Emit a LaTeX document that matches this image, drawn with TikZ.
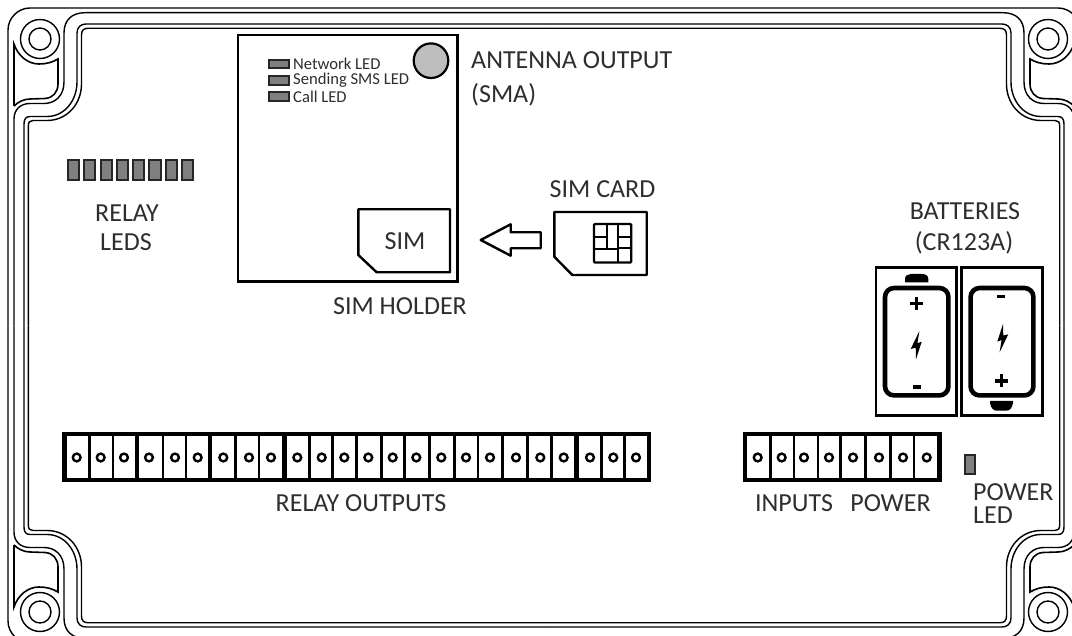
\documentclass[tikz,border=0pt]{standalone}
\usepackage{fontspec}
\setmainfont{Carlito}
\definecolor{ink}{HTML}{2E2E2E}
\definecolor{ledgray}{HTML}{808080}
\definecolor{antgray}{HTML}{BEBEBE}
\tikzset{
  shell/.style={draw=black,line width=1.4pt},
  pocket/.style={draw=black,line width=1.6pt},
  frame/.style={draw=black,line width=2.6pt},
  led/.style={draw=black!85,fill=ledgray,line width=2pt},
  lbl/.style={text=ink,font=\fontsize{26}{28}\selectfont,inner sep=0pt},
  smalllbl/.style={text=ink,font=\fontsize{16.6}{18}\selectfont,inner sep=0pt,anchor=west},
  screw/.style={draw=black,line width=2.4pt,fill=white},
  batt/.style={draw=black,line width=4.6pt,rounded corners=9pt},
  sign/.style={draw=black,line width=3.3pt},
  simshape/.style={draw=black,line width=2.4pt,line join=round},
}
\newcommand{\quartercorner}{%
  \draw[shell] (544,8) -- (30,8) .. controls (18,8) and (8,18) .. (8,30) -- (8,325.5);
  \draw[shell] (544,12.7) -- (85,12.7) .. controls (72,12.7) and (64,20) .. (64,33) -- (64,82)
     .. controls (64,96) and (55,103.5) .. (44,103.5) -- (30,103.5) .. controls (21,103.5) and (14,109) .. (14,119) -- (14,325.5);
  \draw[shell] (544,24) -- (86,24) .. controls (81,24) and (77,27) .. (77,33) -- (77,82)
     .. controls (77,100) and (65,116.5) .. (47,116.5) -- (30,116.5) .. controls (26,116.5) and (24,119) .. (24,124) -- (24,325.5);
  \draw[shell] (544,28.3) -- (88,28.3) .. controls (84,28.3) and (81.5,30) .. (81.5,35) -- (81.5,84)
     .. controls (81.5,104) and (67,120.5) .. (47,120.5) -- (33,120.5) .. controls (30,120.5) and (28.3,122) .. (28.3,126) -- (28.3,325.5);
  \draw[pocket,line join=miter] (14,106) -- (14,44) .. controls (18,56) and (28,64) .. (39,64) .. controls (46,64) and (52,62.5) .. (58,59)
     -- (58,84) .. controls (58,92) and (53,98) .. (45,98.5) -- (30,99) .. controls (24,99) and (18,102) .. (14,106);
  \draw[shell] (40,39) circle[radius=19.5];
  \draw[shell] (40,39) circle[radius=11];
}
\newcommand{\boltshape}{%
  \fill[black] (2.7,-14) -- (-6,4) -- (-1,2.7) -- (-0.7,14.3) -- (5,-3.3) -- (0.7,-1.7) -- cycle;
}
\begin{document}
\begin{tikzpicture}[x=1pt,y=-1pt]
\useasboundingbox (0,0) rectangle (1072,636);
\fill[white] (0,0) rectangle (1072,636);
\clip (0,0) rectangle (1072,636);

% enclosure, four mirrored quarters
\begin{scope}\quartercorner\end{scope}
\begin{scope}[shift={(1088,0)},xscale=-1]\quartercorner\end{scope}
\begin{scope}[shift={(0,651)},yscale=-1]\quartercorner\end{scope}
\begin{scope}[shift={(1088,651)},xscale=-1,yscale=-1]\quartercorner\end{scope}

% relay LEDs
\foreach \a/\b in {67.7/79,84/95,100.7/111.7,117.3/128.3,132.7/144,149.3/160.7,165.7/177,182.3/193.3}
  \draw[led] (\a,160) rectangle (\b,180.5);
\node[lbl] (relayA) at (127,213) {RELAY};
\node[lbl] (relayB) at (126,241.7) {LEDS};

% GSM module
\draw[frame] (238,35) rectangle (457.5,281.5);
\draw[draw=black,fill=antgray,line width=2.2pt] (431,60.7) circle[radius=17.3];
\foreach \t/\b in {60/68.5,76/85,92.5/101}
  \draw[led] (268.5,\t) rectangle (288.5,\b);
\node[smalllbl] (netled) at (293,63.5) {Network LED};
\node[smalllbl] (smsled) at (293,80) {Sending SMS LED};
\node[smalllbl] (callled) at (293,96.5) {Call LED};
\node[lbl,anchor=west] (antA) at (471,60) {ANTENNA OUTPUT};
\node[lbl,anchor=west] (antB) at (471,95) {(SMA)};

% SIM holder
\draw[simshape] (358.3,209.3) -- (450,209.3) -- (450,272.3) -- (376.7,272.3) -- (358.3,255) -- cycle;
\node[lbl] (simtxt) at (405,240.7) {SIM};
\node[lbl] (simholder) at (400,306) {SIM HOLDER};

% arrow
\draw[simshape] (480.7,240) -- (510.7,224.3) -- (510.7,232.3) -- (540.7,232.3) -- (540.7,248.3) -- (510.7,248.3) -- (510.7,255.7) -- cycle;

% SIM card
\node[lbl] (simcard) at (602.5,189) {SIM CARD};
\draw[simshape] (554.3,212) -- (646.7,212) -- (646.7,275) -- (572.3,275) -- (554.3,256.7) -- cycle;
\draw[draw=black,line width=2.4pt,rounded corners=1pt] (594,224) rectangle (631.2,262.5);
\draw[draw=black,line width=2.2pt] (607.3,224) -- (607.3,249.3) (594,236.7) -- (607.3,236.7) (594,249.3) -- (618.3,249.3)
   (618.3,224) -- (618.3,262.5) (618.3,236.7) -- (631.2,236.7) (618.3,248) -- (631.2,248);

% batteries
\node[lbl] (battA) at (965,210.7) {BATTERIES};
\node[lbl] (battB) at (964,243) {(CR123A)};
\draw[frame] (876,267.3) rectangle (956.7,415.7);
\draw[frame] (961.7,267.3) rectangle (1042.3,415.7);
\draw[batt] (885,288) rectangle (948.4,395.4);
\draw[batt] (970.6,288) rectangle (1033.4,395.4);
\fill[black] (905,282.3) -- (905,279) .. controls (905,275.5) and (908,274) .. (911,274) -- (922,274) .. controls (925.5,274) and (928.3,275.5) .. (928.3,279) -- (928.3,282.3) -- cycle;
\fill[black] (990,401) -- (1013,401) -- (1013,403) .. controls (1012,408) and (1010,410.7) .. (1006,410.7) -- (997,410.7) .. controls (993,410.7) and (991,408) .. (990,403) -- cycle;
\draw[sign] (910.2,303.3) -- (923.2,303.3) (916.7,296.8) -- (916.7,309.8);
\draw[sign] (912.7,387) -- (920.7,387);
\draw[sign] (997.3,296.7) -- (1005.3,296.7);
\draw[sign] (994.8,381) -- (1007.8,381) (1001.3,374.5) -- (1001.3,387.5);
\begin{scope}[shift={(916.7,345)}]\boltshape\end{scope}
\begin{scope}[shift={(1002.3,338.3)},xscale=-1,yscale=-1]\boltshape\end{scope}

% relay terminal block
\fill[black] (61.7,431.7) rectangle (651,482.3);
\foreach \a/\b in {66.7/87.7,90.7/111.7,114/135,139.3/161.7,164.3/185,187/208.3,212.3/234.3,237/258.3,260/281.7,286.7/308.3,310.7/331,333.7/355,358.3/380,382.7/403.3,406/427.7,431.3/452.7,456/476.7,478.7/500.7,504/526,529/550.2,552.8/574.3,578.7/600,603/623.3,625.7/646.7}
  \fill[white] (\a,436) rectangle (\b,478.3);
\foreach \c in {76.7,100.7,124,149,175,197.7,223.3,249,271,297.3,321.7,344.3,368.3,392.7,416.3,441.3,466,490,516,540.3,563.7,590,613.3,636}
  \draw[screw] (\c,457.5) circle[radius=3.9];
\node[lbl] (relayout) at (361,503) {RELAY OUTPUTS};

% inputs / power terminal block
\fill[black] (742.7,431.7) rectangle (941.7,482.3);
\foreach \a/\b in {746.7/769.3,771.7/792.7,795/816.7,819/839.3,841.7/864.3,867/889.3,891.7/913.3,915.3/936.7}
  \fill[white] (\a,436) rectangle (\b,478.3);
\foreach \c in {757.7,781.7,804,829,853,879,903,926.7}
  \draw[screw] (\c,457.5) circle[radius=3.9];
\node[lbl] (inputs) at (794,503) {INPUTS};
\node[lbl] (power) at (890.5,503) {POWER};

% power LED
\draw[led] (965.2,455) rectangle (974.8,474.5);
\node[lbl,anchor=west] (pwrA) at (973,492) {POWER};
\node[lbl,anchor=west] (pwrB) at (973,515) {LED};
\end{tikzpicture}
\end{document}
